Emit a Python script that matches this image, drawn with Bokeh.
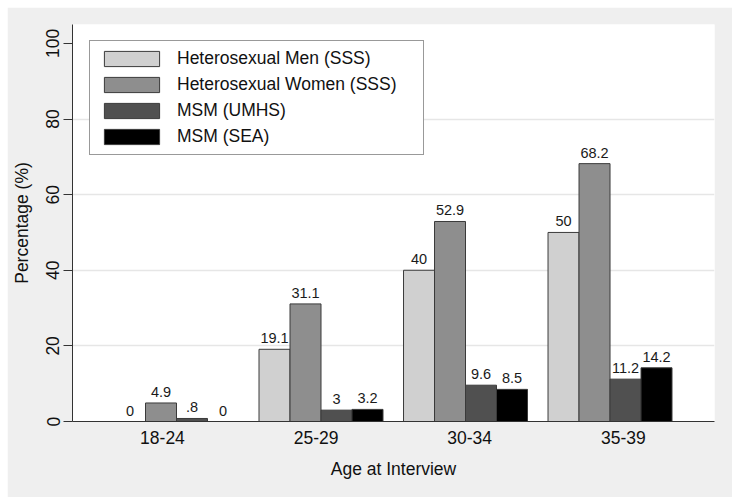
from bokeh.plotting import figure
from bokeh.models import ColumnDataSource, Range1d, FixedTicker, Legend, LegendItem
from bokeh.core.properties import value
from bokeh.embed import file_html
from bokeh.resources import INLINE

categories = ["18-24", "25-29", "30-34", "35-39"]
series_names = ["Heterosexual Men (SSS)", "Heterosexual Women (SSS)", "MSM (UMHS)", "MSM (SEA)"]
het_men = [0, 19.1, 40, 50]
het_women = [4.9, 31.1, 52.9, 68.2]
msm_umhs = [0.8, 3, 9.6, 11.2]
msm_sea = [0, 3.2, 8.5, 14.2]
y_ticks = [0, 20, 40, 60, 80, 100]

series_values = [het_men, het_women, msm_umhs, msm_sea]
colors = ["#d0d0d0", "#8e8e8e", "#505050", "#000000"]

FONT = "Liberation Sans"

def fmt(v):
    s = ("%g" % v)
    if s.startswith("0."):
        s = s[1:]
    return s

p = figure(width=725, height=490, output_backend="svg", toolbar_location=None,
           min_border_left=65, min_border_right=18, min_border_top=17, min_border_bottom=76,
           x_range=Range1d(-0.7197, 3.723), y_range=Range1d(0, 105),
           margin=(7, 0, 0, 7))
p.background_fill_color = "white"
p.border_fill_color = "#efefef"
p.outline_line_color = None

bw = 0.2145
offsets = [-1.5, -0.5, 0.5, 1.5]
items = []
for name, vals, col, off in zip(series_names, series_values, colors, offsets):
    xs = [i + off * bw for i in range(len(categories))]
    src = ColumnDataSource(dict(x=xs, top=vals, lab=[fmt(v) for v in vals]))
    r = p.vbar(x="x", top="top", width=bw, bottom=0, source=src,
               fill_color=col, line_color="#3a3a3a", line_width=1)
    p.text(x="x", y="top", text="lab", source=src, text_align="center",
           text_baseline="alphabetic", y_offset=-11, text_font=value(FONT),
           text_font_size="14.5px", text_color="#1a1a1a")
    items.append(LegendItem(label=name, renderers=[r]))

# axes
tick_pos = [-0.097 + 1.063 * i for i in range(len(categories))]
p.xaxis.ticker = FixedTicker(ticks=tick_pos)
p.xaxis.major_label_overrides = {t: c for t, c in zip(tick_pos, categories)}
p.xaxis.major_tick_out = 0
p.xaxis.major_tick_in = 0
p.xaxis.minor_tick_line_color = None
p.xaxis.major_label_standoff = 9
p.xaxis.axis_label = "Age at Interview"
p.xaxis.axis_label_standoff = 12

p.yaxis.ticker = FixedTicker(ticks=y_ticks)
p.yaxis.major_tick_out = 9
p.yaxis.major_tick_in = 0
p.yaxis.minor_tick_line_color = None
p.yaxis.major_label_orientation = "vertical"
p.yaxis.major_label_standoff = 4
p.yaxis.axis_label = "Percentage (%)"
p.yaxis.axis_label_standoff = 12

for ax in (p.xaxis, p.yaxis):
    ax.axis_line_color = "#333333"
    ax.major_tick_line_color = "#333333"
    ax.major_label_text_font = FONT
    ax.major_label_text_font_size = "17.5px"
    ax.major_label_text_color = "#111111"
    ax.axis_label_text_font = FONT
    ax.axis_label_text_font_size = "17.5px"
    ax.axis_label_text_font_style = "normal"
    ax.axis_label_text_color = "#111111"

p.xgrid.grid_line_color = None
p.ygrid.ticker = FixedTicker(ticks=[20, 40, 60, 80])
p.ygrid.grid_line_color = "#e6e6e6"
p.ygrid.grid_line_width = 1.5

legend = Legend(items=items, location=(17, 266),
                glyph_width=69, glyph_height=19, label_height=19,
                label_width=239, label_standoff=11, spacing=5, padding=7,
                label_text_font=FONT, label_text_font_size="17.5px",
                label_text_color="#111111", border_line_color="#333333",
                border_line_width=1, background_fill_color="white",
                background_fill_alpha=1.0, margin=0)
p.add_layout(legend, "center")

open("out.html", "w").write(file_html(p, INLINE))
